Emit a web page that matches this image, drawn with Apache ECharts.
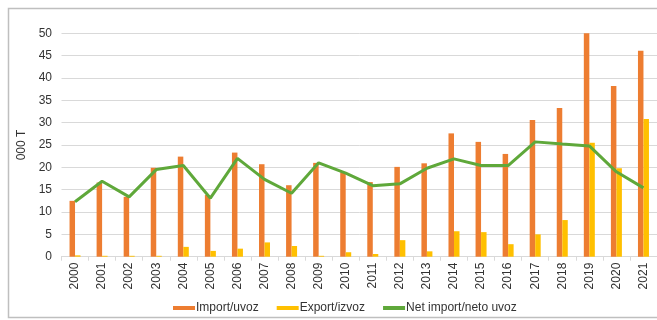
<!DOCTYPE html>
<html>
<head>
<meta charset="utf-8">
<script src="https://cdn.jsdelivr.net/npm/echarts@6/dist/echarts.min.js"></script>
<style>html,body{margin:0;padding:0;background:#fff}#c{width:657px;height:320px}</style>
</head>
<body>
<div id="c"></div>
<script>
const years = ['2000','2001','2002','2003','2004','2005','2006','2007','2008','2009','2010','2011','2012','2013','2014','2015','2016','2017','2018','2019','2020','2021'];
const importVals = [12.5,16.6,13.4,19.9,22.4,13.8,23.3,20.7,16.0,21.0,18.9,16.7,20.1,20.9,27.6,25.7,23.0,30.6,33.3,50.0,38.2,46.1];
const exportVals = [0.3,0.2,0.2,0.2,2.2,1.3,1.8,3.2,2.4,0.2,1.0,0.6,3.7,1.2,5.7,5.5,2.8,5.0,8.2,25.5,19.8,30.8];
const netVals = [12.3,16.9,13.4,19.5,20.4,13.1,22.0,17.3,14.2,21.0,18.7,15.9,16.3,19.8,21.9,20.4,20.4,25.7,25.2,24.8,19.0,15.4];
const yTicks = [0,5,10,15,20,25,30,35,40,45,50];
const seriesNames = ['Import/uvoz','Export/izvoz','Net import/neto uvoz'];

const chart = echarts.init(document.getElementById('c'), null, {renderer:'canvas'});
const font = 'Liberation Sans, Arial, sans-serif';
chart.setOption({
  animation:false,
  textStyle:{fontFamily:font},
  graphic:[{type:'rect', shape:{x:8.5,y:8.5,width:700,height:309}, style:{fill:'none',stroke:'#bfbfbf',lineWidth:1.5}, z:-1}],
  grid:{left:61.5, top:33.3, width:597, height:223.4, containLabel:false},
  legend:{
    left:168, top:297, itemWidth:22, itemHeight:4, itemGap:18, icon:'rect',
    textStyle:{fontSize:12, color:'#333', fontFamily:font, padding:[0,0,0,-4]},
    data:seriesNames
  },
  xAxis:{
    type:'category', data:years, boundaryGap:true,
    axisLine:{lineStyle:{color:'#d9d9d9'}},
    axisTick:{show:true, length:4, lineStyle:{color:'#d9d9d9'}},
    axisLabel:{rotate:90, fontSize:12, color:'#333', margin:6}
  },
  yAxis:{
    type:'value', min:yTicks[0], max:yTicks[yTicks.length-1], interval:5,
    name:'000 T', nameLocation:'middle', nameGap:33, nameRotate:90,
    nameTextStyle:{fontSize:12, color:'#333'},
    axisLine:{show:false}, axisTick:{show:false},
    axisLabel:{fontSize:12, color:'#333', margin:9.5},
    splitLine:{lineStyle:{color:'#d9d9d9', width:1}}
  },
  series:[
    {name:seriesNames[0], type:'bar', data:importVals, barWidth:5.5, barGap:'0%', itemStyle:{color:'#ED7D31'}},
    {name:seriesNames[1], type:'bar', data:exportVals, barWidth:5.5, barGap:'0%', itemStyle:{color:'#FFC000'}},
    {name:seriesNames[2], type:'line', data:netVals, showSymbol:false, symbol:'none', lineStyle:{color:'#5fa83a', width:3}, itemStyle:{color:'#5fa83a'}, z:5}
  ]
});
</script>
</body>
</html>
